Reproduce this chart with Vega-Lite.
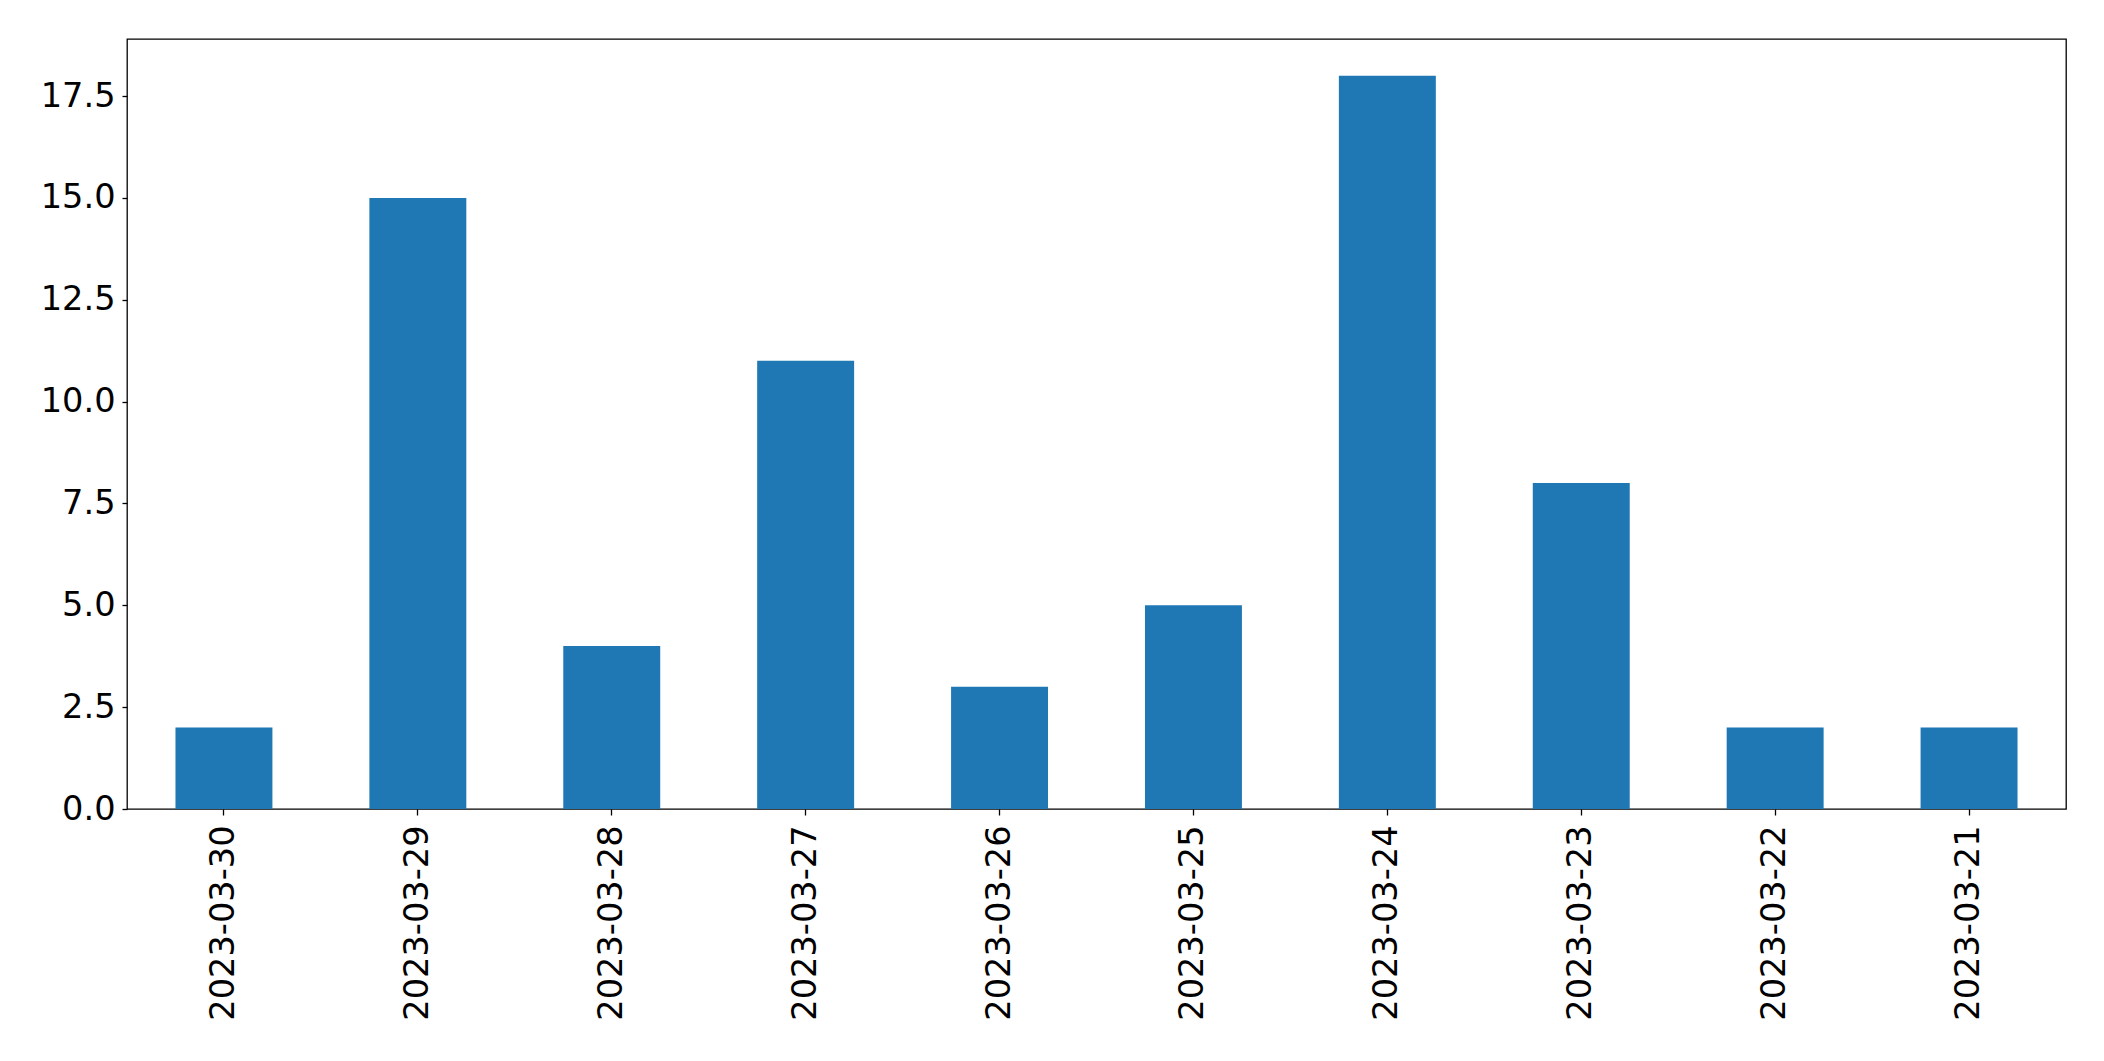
{
  "$schema": "https://vega.github.io/schema/vega-lite/v6.json",
  "autosize": "none",
  "width": 1939,
  "height": 770,
  "padding": {"left": 127, "top": 39, "right": 38, "bottom": 252},
  "background": "white",
  "config": {
    "view": {"stroke": "black", "strokeWidth": 1.3},
    "font": "DejaVu Sans",
    "axis": {
      "labelFont": "DejaVu Sans",
      "labelFontSize": 33.6,
      "labelLimit": 0,
      "labelColor": "black",
      "tickColor": "black",
      "domainColor": "black",
      "grid": false,
      "title": null,
      "tickWidth": 1.3
    }
  },
  "data": {
    "values": [
      {"date": "2023-03-30", "count": 2},
      {"date": "2023-03-29", "count": 15},
      {"date": "2023-03-28", "count": 4},
      {"date": "2023-03-27", "count": 11},
      {"date": "2023-03-26", "count": 3},
      {"date": "2023-03-25", "count": 5},
      {"date": "2023-03-24", "count": 18},
      {"date": "2023-03-23", "count": 8},
      {"date": "2023-03-22", "count": 2},
      {"date": "2023-03-21", "count": 2}
    ]
  },
  "mark": {"type": "bar", "color": "#1f77b4"},
  "encoding": {
    "x": {
      "field": "date",
      "type": "nominal",
      "sort": null,
      "scale": {"paddingInner": 0.5, "paddingOuter": 0.25},
      "axis": {"labelAngle": -90, "tickSize": 6, "labelPadding": 10, "domain": false, "labelBaseline": "middle", "labelAlign": "right"}
    },
    "y": {
      "field": "count",
      "type": "quantitative",
      "scale": {"domain": [0, 18.9], "nice": false},
      "axis": {"values": [0, 2.5, 5, 7.5, 10, 12.5, 15, 17.5], "format": ".1f", "tickSize": 5, "labelPadding": 7, "domain": false}
    }
  }
}
